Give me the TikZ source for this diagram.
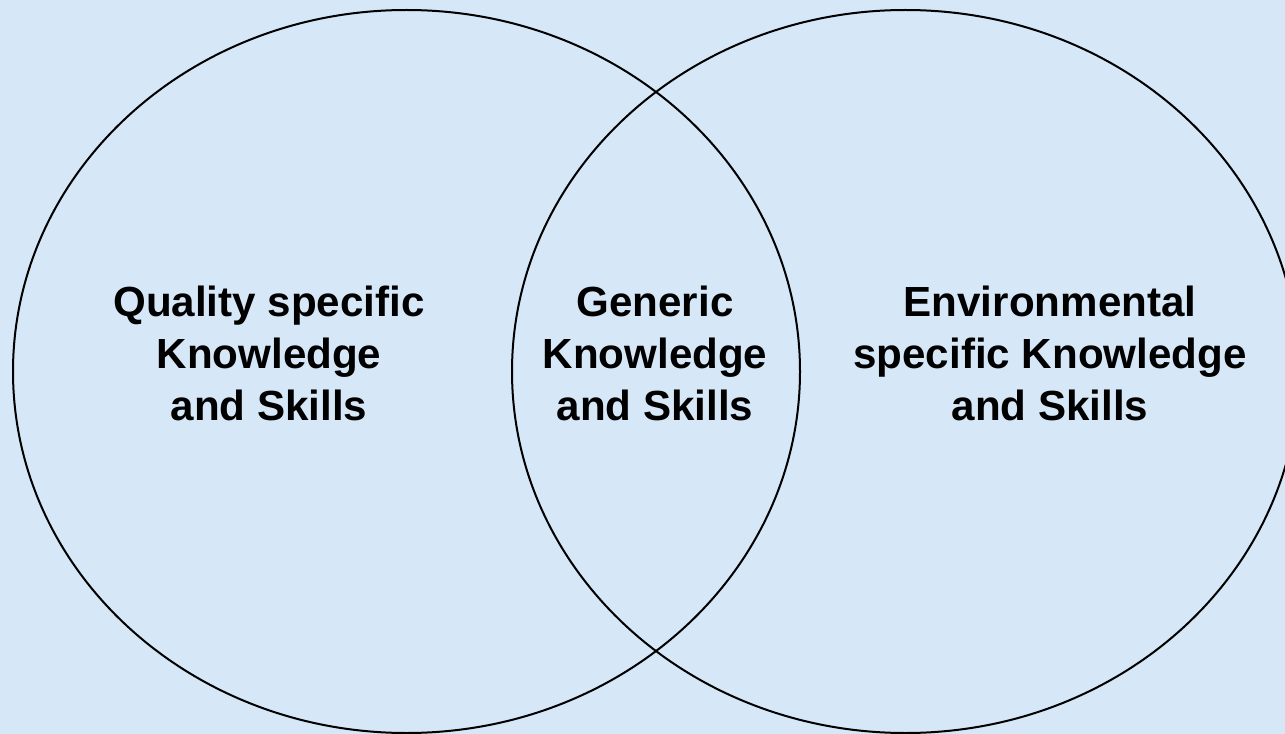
\documentclass[tikz,border=0pt]{standalone}
\usepackage{fontspec}
\setmainfont{Liberation Sans}
\definecolor{bg}{RGB}{214,232,247}
\begin{document}
\begin{tikzpicture}[x=0.75pt,y=-0.75pt,
  lbl/.style={font=\bfseries\fontsize{31.6pt}{39pt}\selectfont, align=center, inner sep=0pt, text=black},
  ring/.style={draw=black, line width=1.5pt}]
\useasboundingbox (0,0) rectangle (1285,734);
\fill[bg] (0,0) rectangle (1285,734);
\clip (0,0) rectangle (1285,734);
\draw[ring] (406.5,371.5) ellipse [x radius=393.5, y radius=361.5];
\draw[ring] (905.5,371.5) ellipse [x radius=393.5, y radius=361.5];
\node[lbl] (quality) at (269,353) {Quality specific\\Knowledge\\and Skills};
\node[lbl] (generic) at (655,353) {Generic\\Knowledge\\and Skills};
\node[lbl] (environ) at (1050,353) {Environmental\\specific Knowledge\\and Skills};
\end{tikzpicture}
\end{document}
